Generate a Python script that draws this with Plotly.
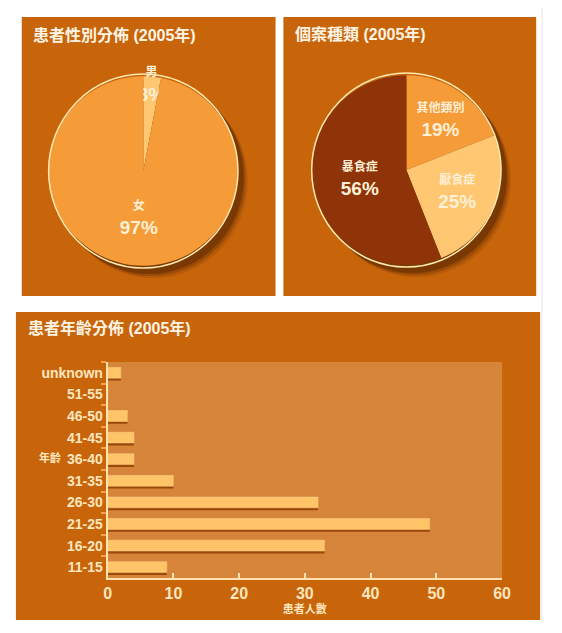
import plotly.graph_objects as go

# the page body keeps its default 8px margin, so the figure is a bit smaller
# than the window (kept slightly short so no scrollbar appears)
PAD = 8
W, H = 562 - 2 * PAD, 630 - 2 * PAD

# data
gender_labels = ["男", "女"]
gender_values = [3, 97]

case_labels = ["其他類別", "厭食症", "暴食症"]
case_values = [19, 25, 56]

age_groups = ["11-15", "16-20", "21-25", "26-30", "31-35",
              "36-40", "41-45", "46-50", "51-55", "unknown"]
age_counts = [9, 33, 49, 32, 10, 4, 4, 3, 0, 2]

FONT = "Liberation Sans, Noto Sans CJK TC, sans-serif"
PANEL = "#C8650A"
INNER = "#D6843A"
PALE = "#FFE6BE"
BAR = "#FFC467"


# page pixel -> paper coords
def px(x):
    return (x - PAD) / W


def py(y):
    return 1 - (y - PAD) / H


fig = go.Figure()

# pie placement (page pixels: left, top, size)
pie1 = (45.5, 74, 194)
pie2 = (315, 73, 194)


def dom(p):
    l, t, s = p
    return dict(x=[px(l), px(l + s)], y=[py(t + s), py(t)])


pie_text = dict(family=FONT, color="#FFF0D8", size=19)
tmpl = "<span style='font-size:12px'><b>%{label}</b></span><br><b>%{percent}</b>"

fig.add_trace(go.Pie(
    labels=gender_labels, values=gender_values, sort=False,
    direction="clockwise", rotation=0, domain=dom(pie1),
    marker=dict(colors=["#FFC771", "#F59B38"], line=dict(width=0)),
    texttemplate=tmpl, textposition="inside", insidetextorientation="horizontal",
    insidetextfont=pie_text, showlegend=False, hoverinfo="label+percent",
))

fig.add_trace(go.Pie(
    labels=case_labels, values=case_values, sort=False,
    direction="clockwise", rotation=0, domain=dom(pie2),
    marker=dict(colors=["#F59B38", "#FFC771", "#8E3408"], line=dict(width=0)),
    texttemplate=tmpl, textposition="inside", insidetextorientation="horizontal",
    insidetextfont=pie_text, showlegend=False, hoverinfo="label+percent",
))

# bar shadow + bars
fig.add_trace(go.Bar(
    y=age_groups, x=age_counts, orientation="h",
    width=0.5, offset=-0.36,
    marker=dict(color="#9A4708", line=dict(width=0)),
    showlegend=False, hoverinfo="skip",
))
fig.add_trace(go.Bar(
    y=age_groups, x=age_counts, orientation="h",
    width=0.5, offset=-0.25,
    marker=dict(color=BAR, line=dict(color="#FFD58C", width=0.5)),
    showlegend=False,
))

shapes = []
# faint outer frame
shapes.append(dict(type="rect", xref="paper", yref="paper", layer="below",
                   x0=px(3), x1=px(551), y0=py(625), y1=py(5),
                   fillcolor="rgba(0,0,0,0)", line=dict(color="#E6E6E6", width=1)))
# panels
for x0, y0, x1, y1 in [(18, 17, 278, 296), (286, 17, 545, 296), (12, 312, 549, 620)]:
    shapes.append(dict(type="rect", xref="paper", yref="paper", layer="below",
                       x0=px(x0), x1=px(x1), y0=py(y1), y1=py(y0),
                       fillcolor=PANEL, line=dict(width=0)))
# bar plot area
shapes.append(dict(type="rect", xref="x domain", yref="y domain", layer="below",
                   x0=0, x1=1, y0=0, y1=1, fillcolor=INNER, line=dict(width=0)))
# pie shadows and rims
for p in (pie1, pie2):
    l, t, s = p
    for off, op in [(10, 0.15), (8, 0.25), (6, 0.4)]:
        shapes.append(dict(type="circle", xref="paper", yref="paper", layer="below",
                           x0=px(l + off), x1=px(l + s + off),
                           y0=py(t + s + off), y1=py(t + off),
                           fillcolor=f"rgba(75,30,0,{op})", line=dict(width=0)))
    shapes.append(dict(type="circle", xref="paper", yref="paper", layer="above",
                       x0=px(l), x1=px(l + s), y0=py(t + s), y1=py(t),
                       fillcolor="rgba(0,0,0,0)", line=dict(color="#FFE9B0", width=1.5)))

titles = [("患者性別分佈 (2005年)", 27, 35), ("個案種類 (2005年)", 296, 34),
          ("患者年齡分佈 (2005年)", 22, 328)]
annotations = [dict(text=f"<b>{t}</b>", x=px(x), y=py(y), xref="paper", yref="paper",
                    xanchor="left", yanchor="middle", showarrow=False,
                    font=dict(family=FONT, size=16, color="#FFF4E4"))
               for t, x, y in titles]
annotations.append(dict(text="<b>年齡</b>", x=px(34), y=py(466), xref="paper", yref="paper",
                        showarrow=False, font=dict(family=FONT, size=11, color=PALE)))

fig.update_layout(
    width=W, height=H, autosize=False,
    margin=dict(l=0, r=0, t=0, b=0),
    paper_bgcolor="#FFFFFF", plot_bgcolor="rgba(0,0,0,0)",
    barmode="overlay", shapes=shapes, annotations=annotations,
    font=dict(family=FONT),
    uniformtext=dict(minsize=12, mode="show"),
    xaxis=dict(domain=[px(106), px(510)], range=[0, 60], dtick=10,
               showgrid=False, zeroline=False,
               showline=True, linecolor="#FFE3AE", linewidth=2,
               ticks="inside", ticklen=5, tickcolor="#FFE3AE", tickwidth=1.5,
               tickfont=dict(family=FONT, size=16, color=PALE),
               tickprefix="<b>", ticksuffix="</b>",
               title=dict(text="<b>患者人數</b>", standoff=0,
                          font=dict(family=FONT, size=11, color=PALE))),
    yaxis=dict(domain=[py(578), py(362)], type="category",
               categoryorder="array", categoryarray=age_groups,
               showgrid=False, zeroline=False,
               showline=True, linecolor="#FFE3AE", linewidth=2,
               ticks="outside", tickson="boundaries", ticklen=5,
               tickcolor="#F5A04A", tickwidth=1.5,
               tickfont=dict(family=FONT, size=14, color=PALE),
               tickprefix="<b>", ticksuffix="</b>"),
)

fig.write_html("out.html", config={"displayModeBar": False})
